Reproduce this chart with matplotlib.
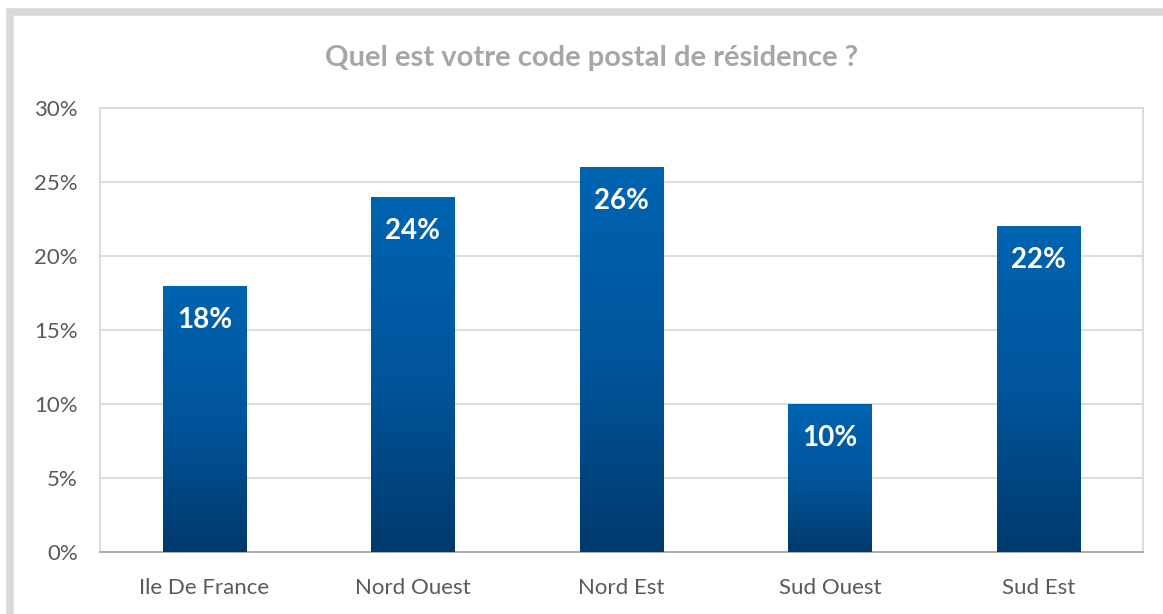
import numpy as np
import matplotlib
matplotlib.use("Agg")
import matplotlib.pyplot as plt
from matplotlib.colors import LinearSegmentedColormap
from matplotlib.patches import Rectangle
from matplotlib.ticker import FuncFormatter, MultipleLocator

plt.rcParams["font.family"] = ["Lato", "DejaVu Sans"]

regions = ["Ile De France", "Nord Ouest", "Nord Est", "Sud Ouest", "Sud Est"]
shares = [18, 24, 26, 10, 22]

W, H = 1163, 614
fig = plt.figure(figsize=(W / 100, H / 100), dpi=100)

# outer frame (left + top edges visible)
fig.patches.append(Rectangle((10 / W, -0.1), 1.2, (H - 12) / H + 0.1,
                             transform=fig.transFigure, fill=False,
                             edgecolor="#d9d9d9", linewidth=5.5, zorder=0))

ax = fig.add_axes([100 / W, 1 - 552 / H, 1043 / W, 444 / H])
x = np.arange(len(regions))
bars = ax.bar(x, shares, width=0.4, color="none", zorder=3)

# vertical blue gradient in each bar
cmap = LinearSegmentedColormap.from_list("blue", ["#003a6d", "#00559c", "#0064b1"])
grad = np.linspace(0, 1, 256).reshape(-1, 1)
for b in bars:
    x0, y0 = b.get_x(), b.get_y()
    w, h = b.get_width(), b.get_height()
    im = ax.imshow(grad, cmap=cmap, aspect="auto", origin="lower",
                   extent=[x0, x0 + w, y0, y0 + h], zorder=3)
    im.set_clip_path(b)
    ax.text(x0 + w / 2, h - 2.3, f"{h:.0f}%", ha="center", va="center",
            color="white", fontsize=20, fontweight="bold", zorder=4)

ax.set_xlim(-0.5, len(regions) - 0.5)
ax.set_ylim(0, 30)
ax.yaxis.set_major_locator(MultipleLocator(5))
ax.yaxis.set_major_formatter(FuncFormatter(lambda v, _: f"{v:.0f}%"))
ax.set_xticks(x)
ax.set_xticklabels(regions)
ax.tick_params(axis="both", length=0, labelsize=16, labelcolor="#595959")
ax.tick_params(axis="x", pad=19)
ax.tick_params(axis="y", pad=16)
ax.grid(axis="y", color="#d9d9d9", linewidth=1.3, zorder=0)
for side in ["top", "left", "right"]:
    ax.spines[side].set_color("#d9d9d9")
    ax.spines[side].set_linewidth(1.3)
ax.spines["bottom"].set_color("#a6a6a6")
ax.spines["bottom"].set_linewidth(1.3)

fig.text(592 / W, 1 - 58 / H, "Quel est votre code postal de résidence ?",
         ha="center", va="center", fontsize=21, fontweight="bold",
         color="#a6a6a6")

fig.savefig("out.png", dpi=100, facecolor="white")
